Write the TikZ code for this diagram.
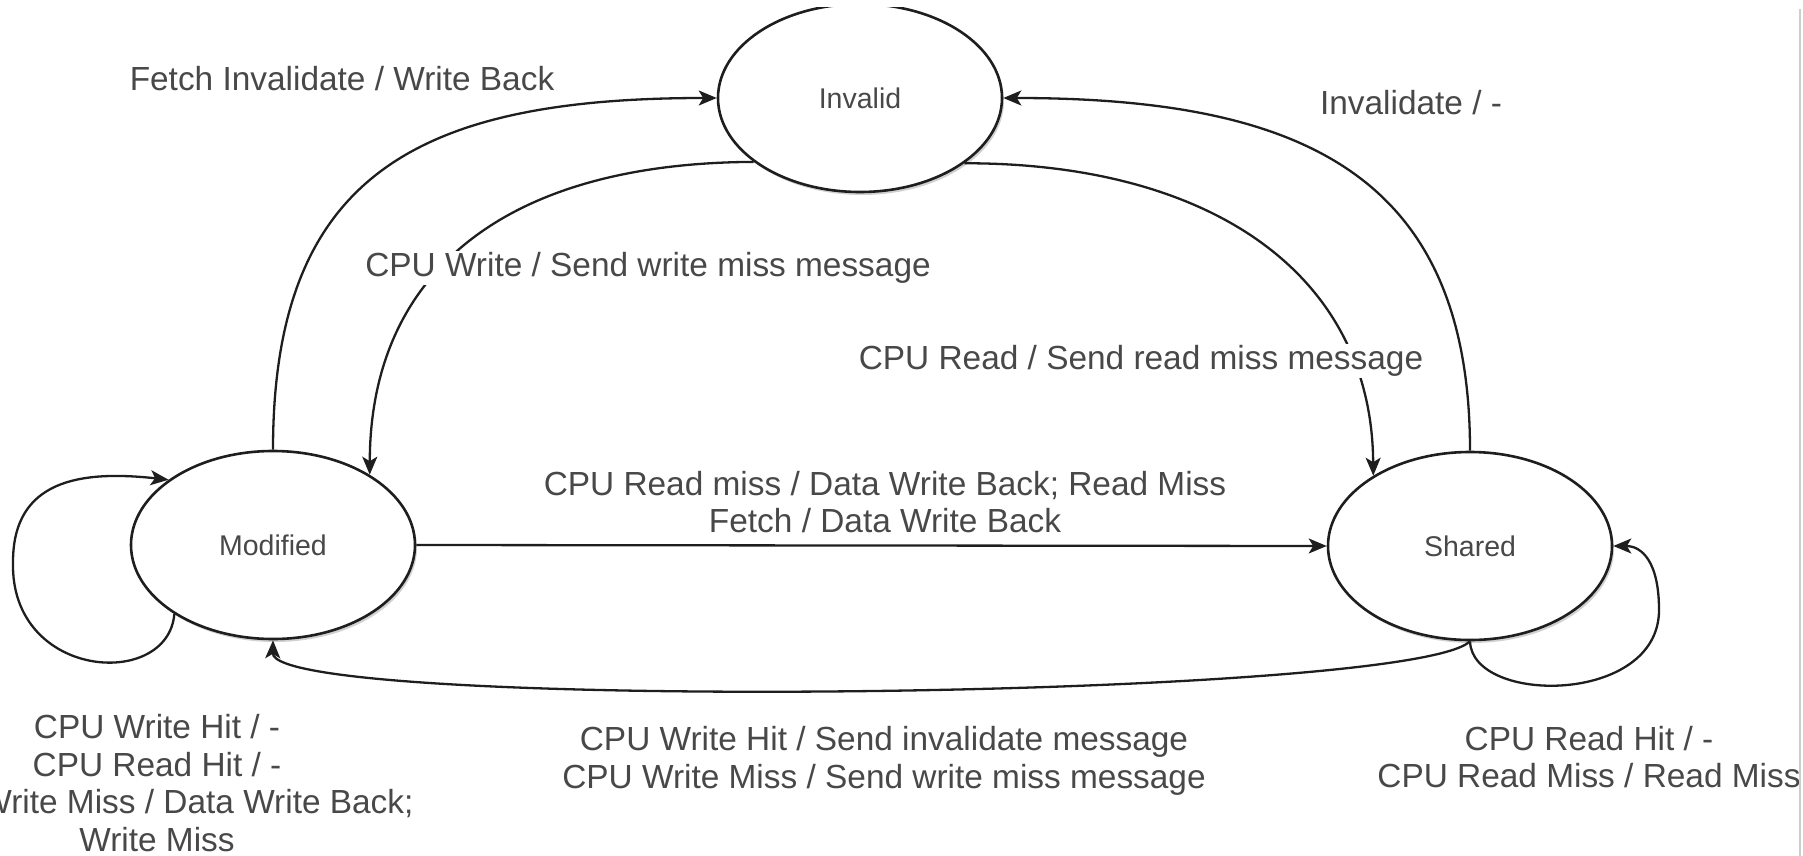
\documentclass[tikz,border=0pt]{standalone}
\usepackage{fontspec}
\setmainfont{Liberation Sans}
\usetikzlibrary{arrows.meta,shapes.geometric,shadows}
\definecolor{edgecol}{RGB}{30,30,30}
\definecolor{txtcol}{RGB}{72,72,72}
\definecolor{framecol}{RGB}{205,205,205}

\begin{document}
\begin{tikzpicture}[x=1pt,y=-1pt,
  state/.style={ellipse, draw=edgecol, line width=2.6pt, fill=white,
    minimum width=284pt, minimum height=188pt, inner sep=0pt, text=txtcol,
    font=\fontsize{28.5}{32}\selectfont,
    drop shadow={shadow xshift=2pt, shadow yshift=-3pt, opacity=0.18, fill=black}},
  trans/.style={draw=edgecol, line width=2.3pt,
    -{Stealth[length=18pt,width=15pt,inset=4.5pt]}},
  lbl/.style={text=txtcol, font=\fontsize{33.4}{37.5}\selectfont,
    align=center, inner sep=1pt},
  lblbg/.style={lbl, fill=white}]

\useasboundingbox (0,0) rectangle (1803,856);
\clip (0,8) rectangle (1803,856);

% states
\node[state] (I) at (860,98)  {Invalid};
\node[state] (M) at (273,545) {Modified};
\node[state] (S) at (1470,546) {Shared};

% transitions
\draw[trans] (M.north) .. controls (273,175) and (418,98) .. (I.west);
\draw[trans] (I.211) .. controls (502,163) and (370,275) .. (M.36);
\draw[trans] (I.-32) .. controls (1212,163) and (1372,275) .. (S.144);
\draw[trans] (S.north) .. controls (1470,175) and (1302,98) .. (I.east);
\draw[trans] (M.east) -- (S.west);
\draw[trans] (S.south) .. controls (1410,700) and (272,712) .. (M.south);
\draw[trans] (M.215) .. controls (168,690) and (10,680) .. (13,562)
  .. controls (13,480) and (80,470) .. (M.148);
\draw[trans] (S.south) .. controls (1472,705) and (1659,705) .. (1659,610)
  .. controls (1659,562) and (1642,546) .. (S.east);

% transition labels
\node[lbl]   (lFI) at (342,79)   {Fetch Invalidate / Write Back};
\node[lbl]   (lIN) at (1411,103) {Invalidate / -};
\node[lblbg] (lCW) at (648,268)  {CPU Write / Send write miss message};
\node[lblbg] (lCR) at (1141,361) {CPU Read / Send read miss message};
\node[lbl]   (lMS) at (885,502)  {CPU Read miss / Data Write Back; Read Miss\\Fetch / Data Write Back};
\node[lbl]   (lSM) at (884,761)  {CPU Write Hit / Send invalidate message\\CPU Write Miss / Send write miss message};
\node[lbl]   (lML) at (157,783)  {CPU Write Hit / -\\CPU Read Hit / -\\CPU Write Miss / Data Write Back;\\Write Miss};
\node[lbl]   (lSL) at (1589,757) {CPU Read Hit / -\\CPU Read Miss / Read Miss};

% page edge
\draw[framecol, line width=2pt] (1800,9) -- (1800,856);
\end{tikzpicture}
\end{document}
